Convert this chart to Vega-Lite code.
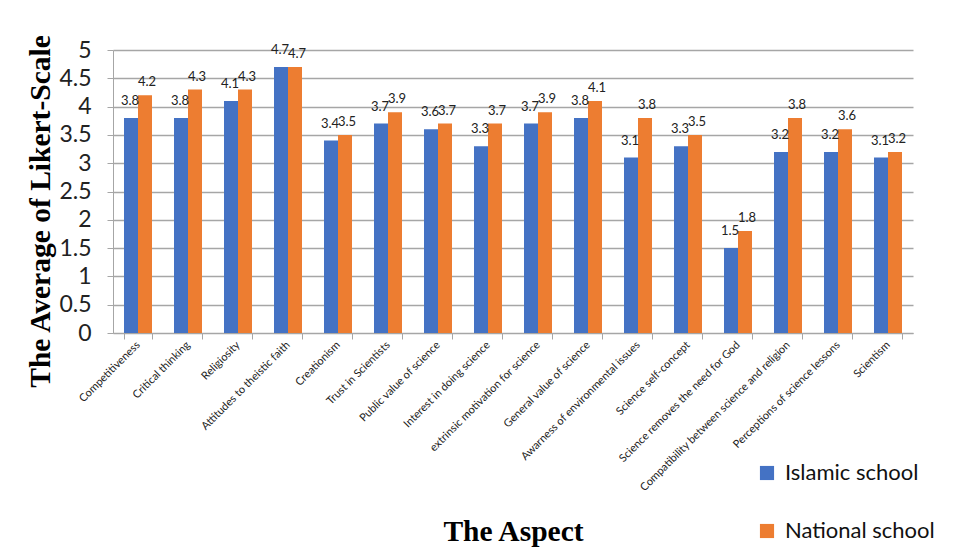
{
  "$schema": "https://vega.github.io/schema/vega-lite/v6.json",
  "autosize": {"type": "none"},
  "padding": {"left": 113, "top": 50, "right": 56, "bottom": 221},
  "width": 800,
  "height": 283,
  "background": "white",
  "data": {
    "values": [
      {"aspect": "Competitiveness", "school": "Islamic school", "score": 3.8},
      {"aspect": "Competitiveness", "school": "National school", "score": 4.2},
      {"aspect": "Critical thinking", "school": "Islamic school", "score": 3.8},
      {"aspect": "Critical thinking", "school": "National school", "score": 4.3},
      {"aspect": "Religiosity", "school": "Islamic school", "score": 4.1},
      {"aspect": "Religiosity", "school": "National school", "score": 4.3},
      {"aspect": "Attitudes to theistic faith", "school": "Islamic school", "score": 4.7},
      {"aspect": "Attitudes to theistic faith", "school": "National school", "score": 4.7},
      {"aspect": "Creationism", "school": "Islamic school", "score": 3.4},
      {"aspect": "Creationism", "school": "National school", "score": 3.5},
      {"aspect": "Trust in Scientists", "school": "Islamic school", "score": 3.7},
      {"aspect": "Trust in Scientists", "school": "National school", "score": 3.9},
      {"aspect": "Public value of science", "school": "Islamic school", "score": 3.6},
      {"aspect": "Public value of science", "school": "National school", "score": 3.7},
      {"aspect": "Interest in doing science", "school": "Islamic school", "score": 3.3},
      {"aspect": "Interest in doing science", "school": "National school", "score": 3.7},
      {"aspect": "extrinsic motivation for science", "school": "Islamic school", "score": 3.7},
      {"aspect": "extrinsic motivation for science", "school": "National school", "score": 3.9},
      {"aspect": "General value of science", "school": "Islamic school", "score": 3.8},
      {"aspect": "General value of science", "school": "National school", "score": 4.1},
      {"aspect": "Awarness of environmental issues", "school": "Islamic school", "score": 3.1},
      {"aspect": "Awarness of environmental issues", "school": "National school", "score": 3.8},
      {"aspect": "Science self-concept", "school": "Islamic school", "score": 3.3},
      {"aspect": "Science self-concept", "school": "National school", "score": 3.5},
      {"aspect": "Science removes the need for God", "school": "Islamic school", "score": 1.5},
      {"aspect": "Science removes the need for God", "school": "National school", "score": 1.8},
      {"aspect": "Compatibility between science and religion", "school": "Islamic school", "score": 3.2},
      {"aspect": "Compatibility between science and religion", "school": "National school", "score": 3.8},
      {"aspect": "Perceptions of science lessons", "school": "Islamic school", "score": 3.2},
      {"aspect": "Perceptions of science lessons", "school": "National school", "score": 3.6},
      {"aspect": "Scientism", "school": "Islamic school", "score": 3.1},
      {"aspect": "Scientism", "school": "National school", "score": 3.2}
    ]
  },
  "encoding": {
    "x": {
      "field": "aspect",
      "type": "nominal",
      "sort": null,
      "scale": {"paddingInner": 0.44, "paddingOuter": 0.22},
      "axis": {
        "title": "The Aspect",
        "titleFont": "Liberation Serif",
        "titleFontSize": 29.5,
        "titleFontWeight": "bold",
        "titleColor": "black",
        "titleY": 207,
        "titleBaseline": "alphabetic",
        "labelAngle": -45,
        "labelAlign": "right",
        "labelBaseline": "middle",
        "labelFont": "Lato",
        "labelFontSize": 11,
        "labelLimit": 0,
        "labelColor": "#222222",
        "labelPadding": 4,
        "bandPosition": 0,
        "tickBand": "extent",
        "tickColor": "#A6A6A6",
        "tickSize": 6,
        "domainColor": "#A6A6A6",
        "grid": false
      }
    },
    "xOffset": {
      "field": "school",
      "type": "nominal",
      "scale": {"domain": ["Islamic school", "National school"], "paddingInner": 0, "paddingOuter": 0}
    },
    "y": {
      "field": "score",
      "type": "quantitative",
      "scale": {"domain": [0, 5]},
      "axis": {
        "title": "The Average of Likert-Scale",
        "titleFont": "Liberation Serif",
        "titleFontSize": 29.5,
        "titleFontWeight": "bold",
        "titleColor": "black",
        "titleX": -73,
        "titleY": 161,
        "titleAngle": -90,
        "titleAlign": "center",
        "titleBaseline": "middle",
        "values": [0, 0.5, 1, 1.5, 2, 2.5, 3, 3.5, 4, 4.5, 5],
        "format": "~g",
        "labelFont": "Lato",
        "labelFontSize": 23,
        "labelColor": "#222222",
        "labelPadding": 16,
        "tickColor": "#A6A6A6",
        "tickSize": 6,
        "domainColor": "#A6A6A6",
        "gridColor": "#A6A6A6",
        "gridWidth": 1.5
      }
    }
  },
  "layer": [
    {
      "mark": {"type": "bar"},
      "encoding": {
        "color": {
          "field": "school",
          "type": "nominal",
          "scale": {"domain": ["Islamic school", "National school"], "range": ["#4472C4", "#ED7D31"]},
          "legend": {
            "title": null,
            "orient": "none",
            "legendX": 643,
            "legendY": 412,
            "symbolType": "square",
            "symbolSize": 200,
            "symbolStrokeWidth": 0,
            "labelFont": "Lato",
            "labelFontSize": 22,
            "labelColor": "#111111",
            "labelOffset": 7,
            "rowPadding": 36,
            "direction": "vertical"
          }
        }
      }
    },
    {
      "transform": [{"filter": "datum.school === 'Islamic school'"}],
      "mark": {"type": "text", "dy": -17, "dx": -1, "font": "Lato", "fontSize": 13, "color": "#222222"},
      "encoding": {
        "text": {"field": "score", "type": "quantitative", "format": ".1f"}
      }
    },
    {
      "transform": [{"filter": "datum.school === 'National school'"}],
      "mark": {"type": "text", "dy": -13, "dx": 2, "font": "Lato", "fontSize": 13, "color": "#222222"},
      "encoding": {
        "text": {"field": "score", "type": "quantitative", "format": ".1f"}
      }
    }
  ],
  "config": {
    "view": {"stroke": null}
  }
}
